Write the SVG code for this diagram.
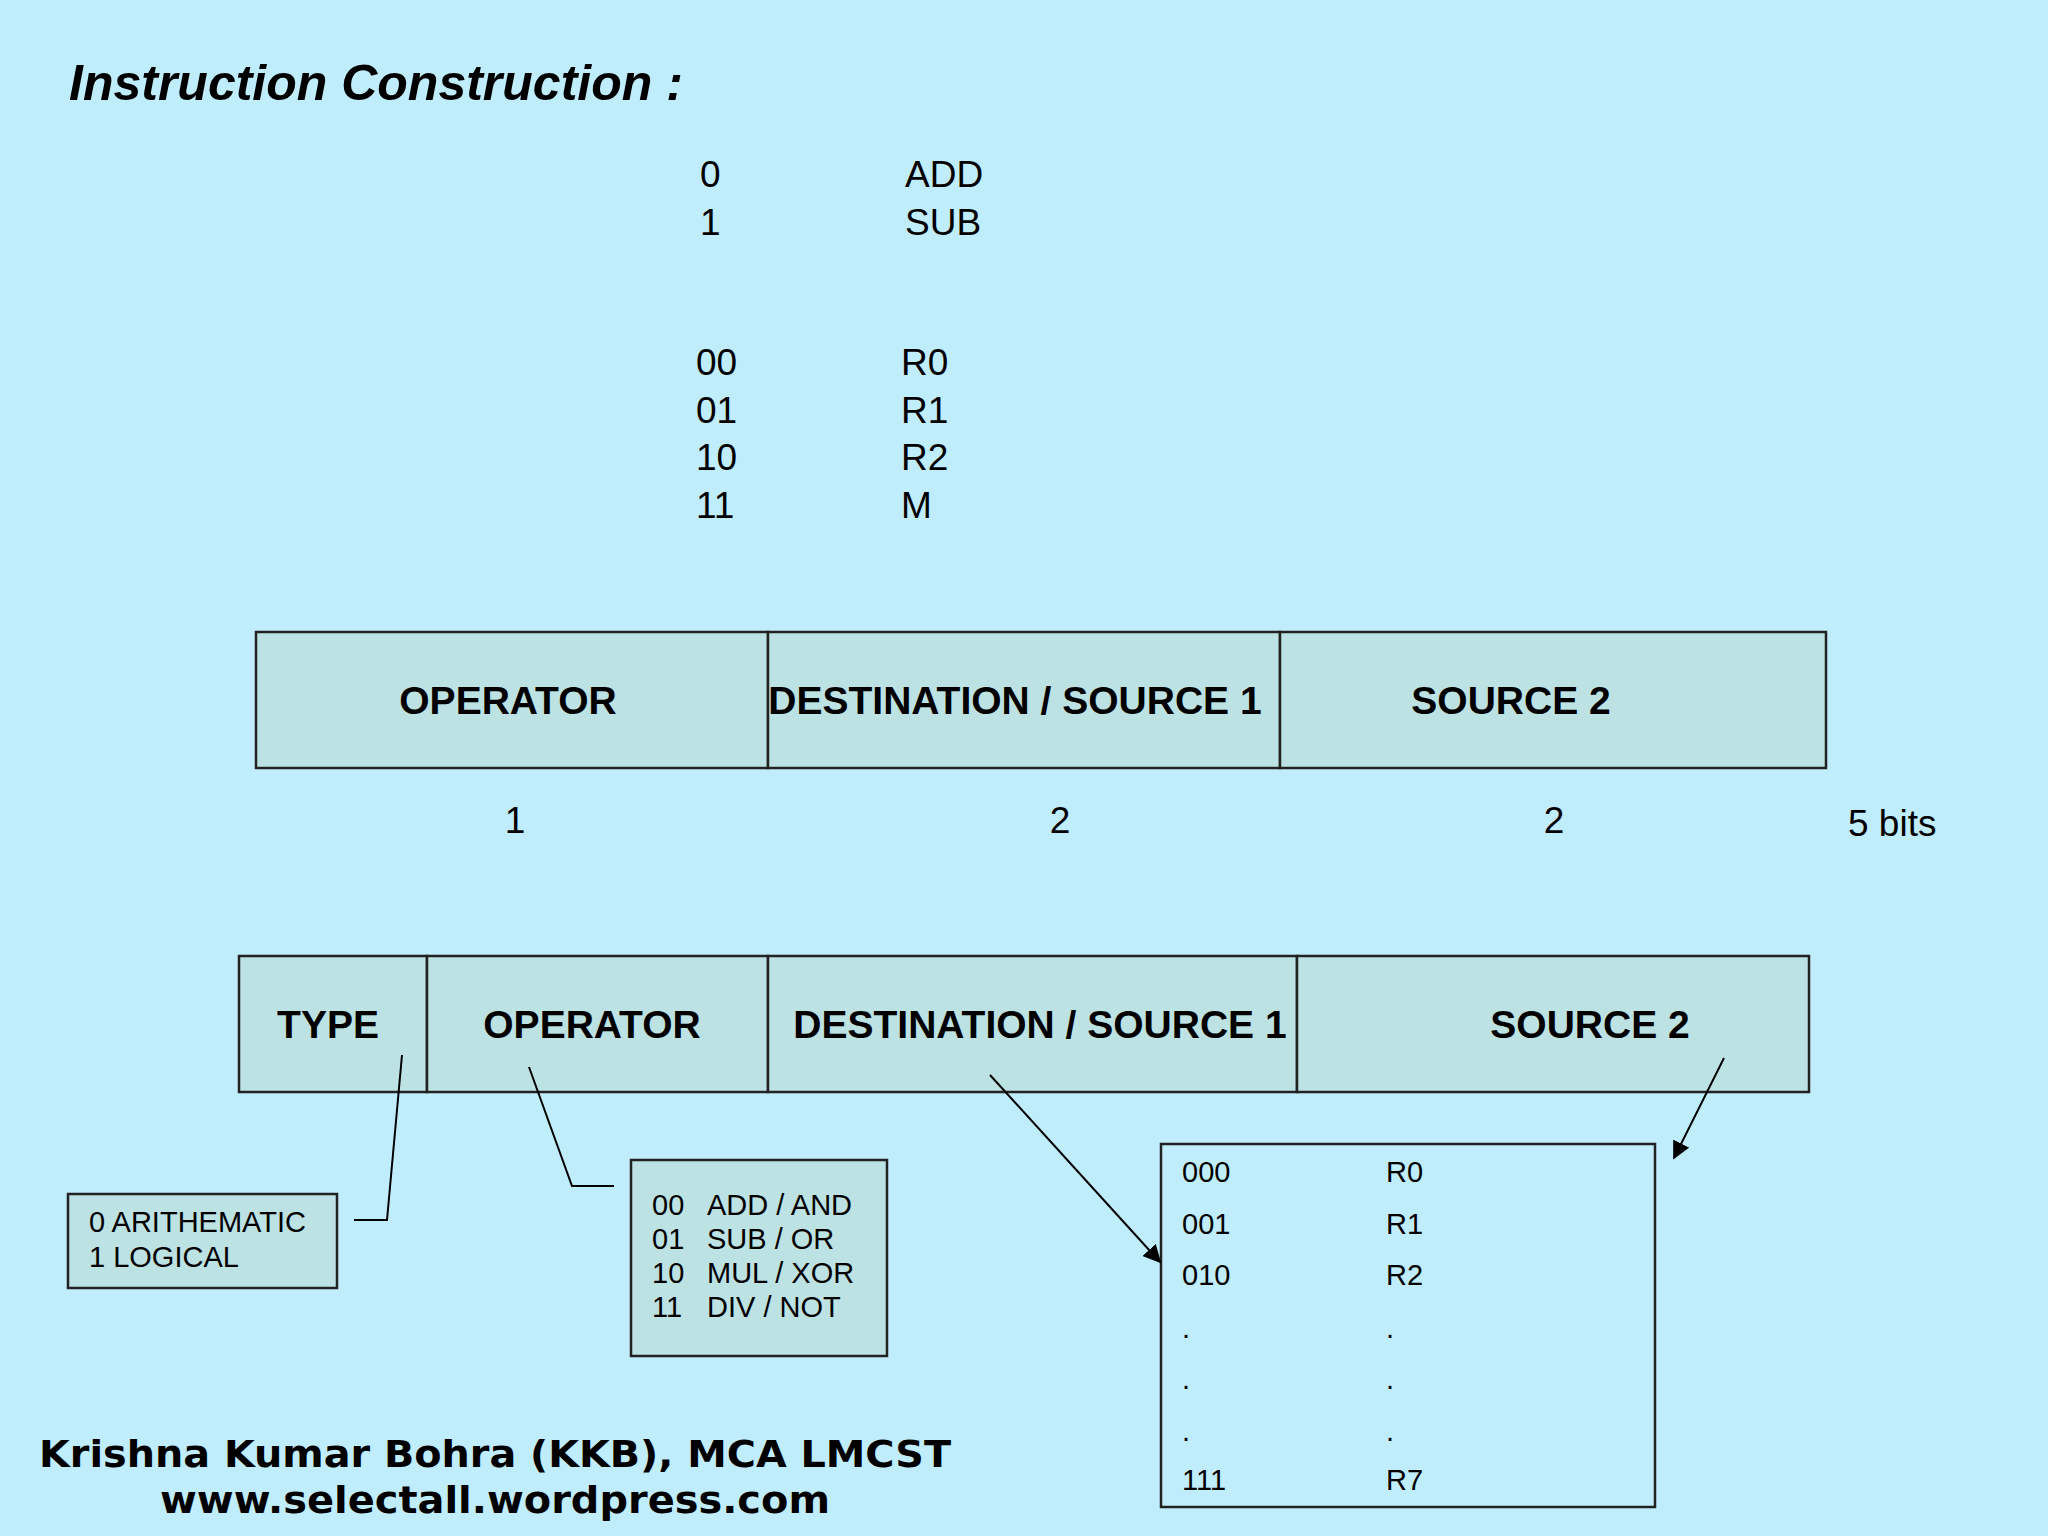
<svg xmlns="http://www.w3.org/2000/svg" width="2048" height="1536" viewBox="0 0 2048 1536">
<style>
.t{font-family:"Liberation Sans",Arial,sans-serif;fill:#000}
.n{font-size:37px}
.b{font-size:39px;font-weight:bold;text-anchor:middle}
.s{font-size:29px}
.box{fill:#bde2e3;stroke:#222;stroke-width:2.5}
.wb{fill:#c0edfc;stroke:#222;stroke-width:2.5}
.ln{fill:none;stroke:#000;stroke-width:2}
.f{font-family:"DejaVu Sans",Verdana,sans-serif;font-weight:bold;font-size:38px;text-anchor:middle}
</style>
<defs><marker id="a" viewBox="0 0 10 10" refX="9" refY="5" markerWidth="9" markerHeight="9" orient="auto"><path d="M0,0L10,5L0,10z" fill="#000"/></marker></defs>
<rect width="2048" height="1536" fill="#c0edfc"/>
<text class="t" x="69" y="100" font-size="50" font-style="italic" font-weight="bold">Instruction Construction :</text>
<g id="codes">
<text class="t n" x="700" y="187">0</text><text class="t n" x="905" y="187">ADD</text>
<text class="t n" x="700" y="235">1</text><text class="t n" x="905" y="235">SUB</text>
<text class="t n" x="696" y="375">00</text><text class="t n" x="901" y="375">R0</text>
<text class="t n" x="696" y="423">01</text><text class="t n" x="901" y="423">R1</text>
<text class="t n" x="696" y="470">10</text><text class="t n" x="901" y="470">R2</text>
<text class="t n" x="696" y="518">11</text><text class="t n" x="901" y="518">M</text>
</g>
<g id="row1">
<rect class="box" x="256" y="632" width="512" height="136"/>
<rect class="box" x="768" y="632" width="512" height="136"/>
<rect class="box" x="1280" y="632" width="546" height="136"/>
<text class="t b" x="508" y="714">OPERATOR</text>
<text class="t b" x="1015" y="714">DESTINATION / SOURCE 1</text>
<text class="t b" x="1511" y="714">SOURCE 2</text>
<text class="t n" x="515" y="833" text-anchor="middle">1</text>
<text class="t n" x="1060" y="833" text-anchor="middle">2</text>
<text class="t n" x="1554" y="833" text-anchor="middle">2</text>
<text class="t n" x="1848" y="836">5 bits</text>
</g>
<g id="row2">
<rect class="box" x="239" y="956" width="188" height="136"/>
<rect class="box" x="427" y="956" width="341" height="136"/>
<rect class="box" x="768" y="956" width="529" height="136"/>
<rect class="box" x="1297" y="956" width="512" height="136"/>
<text class="t b" x="328" y="1038">TYPE</text>
<text class="t b" x="592" y="1038">OPERATOR</text>
<text class="t b" x="1040" y="1038">DESTINATION / SOURCE 1</text>
<text class="t b" x="1590" y="1038">SOURCE 2</text>
</g>
<g id="typebox">
<rect class="box" x="68" y="1194" width="269" height="94"/>
<text class="t s" x="89" y="1232">0  ARITHEMATIC</text>
<text class="t s" x="89" y="1267">1  LOGICAL</text>
</g>
<g id="opbox">
<rect class="box" x="631" y="1160" width="256" height="196"/>
<text class="t s" x="652" y="1215">00</text><text class="t s" x="707" y="1215">ADD / AND</text>
<text class="t s" x="652" y="1249">01</text><text class="t s" x="707" y="1249">SUB / OR</text>
<text class="t s" x="652" y="1283">10</text><text class="t s" x="707" y="1283">MUL / XOR</text>
<text class="t s" x="652" y="1317">11</text><text class="t s" x="707" y="1317">DIV / NOT</text>
</g>
<g id="regbox">
<rect class="wb" x="1161" y="1144" width="494" height="363"/>
<g class="t s">
<text x="1182" y="1182">000</text><text x="1386" y="1182">R0</text>
<text x="1182" y="1234">001</text><text x="1386" y="1234">R1</text>
<text x="1182" y="1285">010</text><text x="1386" y="1285">R2</text>
<text x="1182" y="1338">.</text><text x="1386" y="1338">.</text>
<text x="1182" y="1389">.</text><text x="1386" y="1389">.</text>
<text x="1182" y="1441">.</text><text x="1386" y="1441">.</text>
<text x="1182" y="1490">111</text><text x="1386" y="1490">R7</text>
</g>
</g>
<g id="connectors">
<polyline class="ln" points="402,1055 387,1220 354,1220"/>
<polyline class="ln" points="529,1067 572,1186 614,1186"/>
<line class="ln" x1="990" y1="1075" x2="1160" y2="1262" marker-end="url(#a)"/>
<line class="ln" x1="1724" y1="1058" x2="1674" y2="1158" marker-end="url(#a)"/>
</g>
<text class="f" x="495" y="1467" textLength="912" lengthAdjust="spacingAndGlyphs">Krishna Kumar Bohra (KKB), MCA LMCST</text>
<text class="f" x="495" y="1513" textLength="670" lengthAdjust="spacingAndGlyphs">www.selectall.wordpress.com</text>
</svg>
